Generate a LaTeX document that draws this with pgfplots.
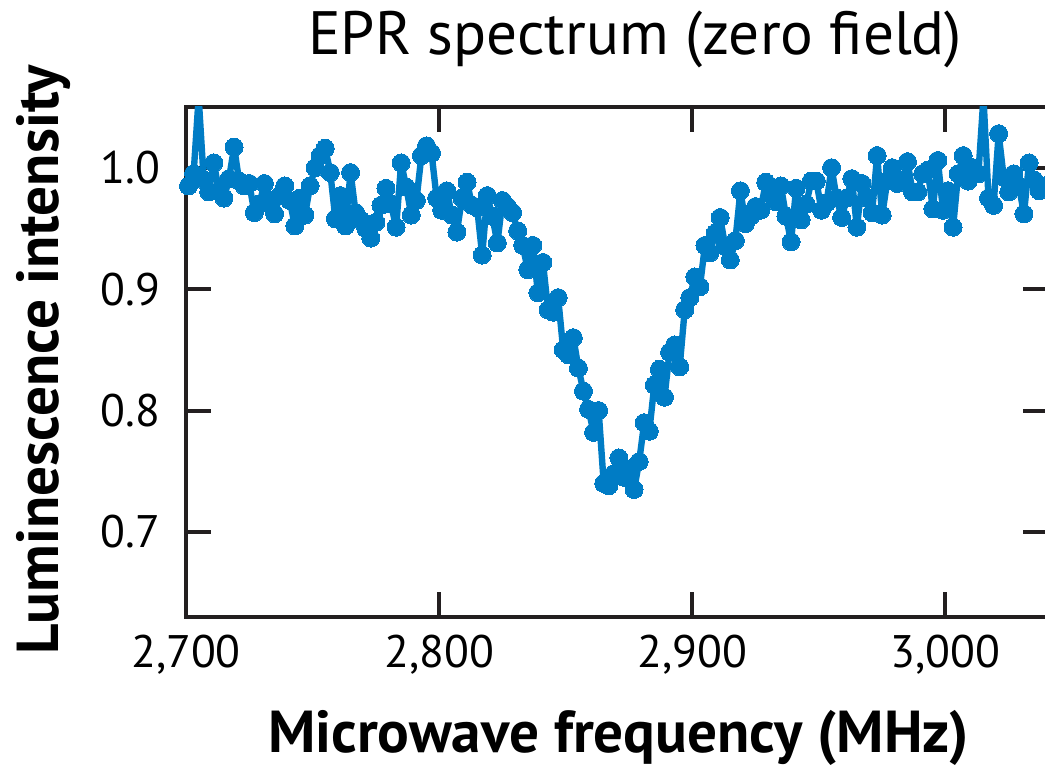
\documentclass[border=0pt]{standalone}
\usepackage{pgfplots}
\pgfplotsset{compat=1.18}
\usepackage{fontspec}
\setmainfont{PT Sans}
\definecolor{eprblue}{RGB}{0,124,197}
\definecolor{axgray}{RGB}{35,31,32}
\begin{document}
\begin{tikzpicture}
\begin{axis}[
  scale only axis,
  width=215.5pt, height=127.5pt,
  xmin=2700, xmax=3040.5, ymin=0.63, ymax=1.05,
  xtick={2700,2800,2900,3000},
  ytick={0.7,0.8,0.9,1.0},
  tick align=inside,
  major tick length=6.25pt,
  axis line style={line width=1pt, axgray},
  every tick/.style={line width=1pt, axgray},
  /pgf/number format/assume math mode=true,
  xticklabel style={/pgf/number format/1000 sep={,}, font=\fontsize{11.4}{13}\selectfont, yshift=-1pt},
  yticklabel style={/pgf/number format/fixed, /pgf/number format/precision=1, /pgf/number format/fixed zerofill, font=\fontsize{11.4}{13}\selectfont, xshift=-3pt},
  title={EPR spectrum (zero field)},
  title style={at={(axis description cs:0.521,1.086)}, anchor=center, yshift=0pt, font=\fontsize{15.3}{17}\selectfont},
  xlabel={Microwave frequency (MHz)},
  xlabel style={at={(axis description cs:0.502,-0.238)}, anchor=center, font=\bfseries\fontsize{14.8}{16}\selectfont},
  ylabel={Luminescence intensity},
  ylabel style={at={(axis description cs:-0.165,0.504)}, anchor=center, rotate=0, font=\bfseries\fontsize{14.8}{16}\selectfont},
]
\addplot[color=eprblue, line width=1.6pt, line join=round, mark=*, mark size=2.25pt, mark options={fill=eprblue, draw=eprblue, line width=0pt}] coordinates {
(2699,0.998) (2701,0.985) (2703,0.995) (2705,1.058) (2707,0.990) (2709,0.980) (2711,1.004) (2713,0.981)
(2715,0.975) (2717,0.991) (2719,1.017) (2721,0.989) (2723,0.985) (2725,0.987) (2727,0.963) (2729,0.970)
(2731,0.987) (2733,0.973) (2735,0.962) (2737,0.977) (2739,0.985) (2741,0.973) (2743,0.952) (2745,0.975)
(2747,0.961) (2749,0.985) (2751,1.000) (2753,1.010) (2755,1.016) (2757,0.996) (2759,0.958) (2761,0.977)
(2763,0.952) (2765,0.996) (2767,0.963) (2769,0.957) (2771,0.950) (2773,0.942) (2775,0.955) (2777,0.969)
(2779,0.983) (2781,0.970) (2783,0.951) (2785,1.004) (2787,0.984) (2789,0.961) (2791,0.973) (2793,1.010)
(2795,1.018) (2797,1.012) (2799,0.975) (2801,0.965) (2803,0.981) (2805,0.961) (2807,0.947) (2809,0.975)
(2811,0.988) (2813,0.969) (2815,0.967) (2817,0.928) (2819,0.977) (2821,0.960) (2823,0.938) (2825,0.973)
(2827,0.968) (2829,0.963) (2831,0.948) (2833,0.936) (2835,0.916) (2837,0.936) (2839,0.897) (2841,0.922)
(2843,0.883) (2845,0.881) (2847,0.893) (2849,0.850) (2851,0.846) (2853,0.860) (2855,0.835) (2857,0.816)
(2859,0.801) (2861,0.782) (2863,0.800) (2865,0.740) (2867,0.738) (2869,0.748) (2871,0.761) (2873,0.745)
(2875,0.752) (2877,0.735) (2879,0.758) (2881,0.790) (2883,0.783) (2885,0.821) (2887,0.834) (2889,0.811)
(2891,0.848) (2893,0.854) (2895,0.836) (2897,0.883) (2899,0.893) (2901,0.910) (2903,0.902) (2905,0.936)
(2907,0.930) (2909,0.946) (2911,0.959) (2913,0.935) (2915,0.924) (2917,0.940) (2919,0.981) (2921,0.954)
(2923,0.960) (2925,0.968) (2927,0.965) (2929,0.988) (2931,0.978) (2933,0.972) (2935,0.985) (2937,0.960)
(2939,0.939) (2941,0.983) (2943,0.957) (2945,0.970) (2947,0.989) (2949,0.989) (2951,0.965) (2953,0.971)
(2955,1.000) (2957,0.975) (2959,0.959) (2961,0.975) (2963,0.991) (2965,0.951) (2967,0.987) (2969,0.975)
(2971,0.963) (2973,1.010) (2975,0.961) (2977,0.989) (2979,1.000) (2981,0.987) (2983,0.990) (2985,1.005)
(2987,0.980) (2989,0.980) (2991,0.995) (2993,0.998) (2995,0.966) (2997,1.006) (2999,0.965) (3001,0.981)
(3003,0.951) (3005,0.995) (3007,1.010) (3009,0.989) (3011,1.000) (3013,0.995) (3015,1.058) (3017,0.975)
(3019,0.969) (3021,1.028) (3023,0.992) (3025,0.980) (3027,0.995) (3029,0.985) (3031,0.962) (3033,1.004)
(3035,0.990) (3037,0.981) (3039,0.985) (3041,0.990)
};
\end{axis}
\pgfresetboundingbox
\path[use as bounding box] ([shift={(-46.5pt,-37.25pt)}]current axis.south west) rectangle ([shift={(214.75pt,154.25pt)}]current axis.south west);
\end{tikzpicture}
\end{document}
